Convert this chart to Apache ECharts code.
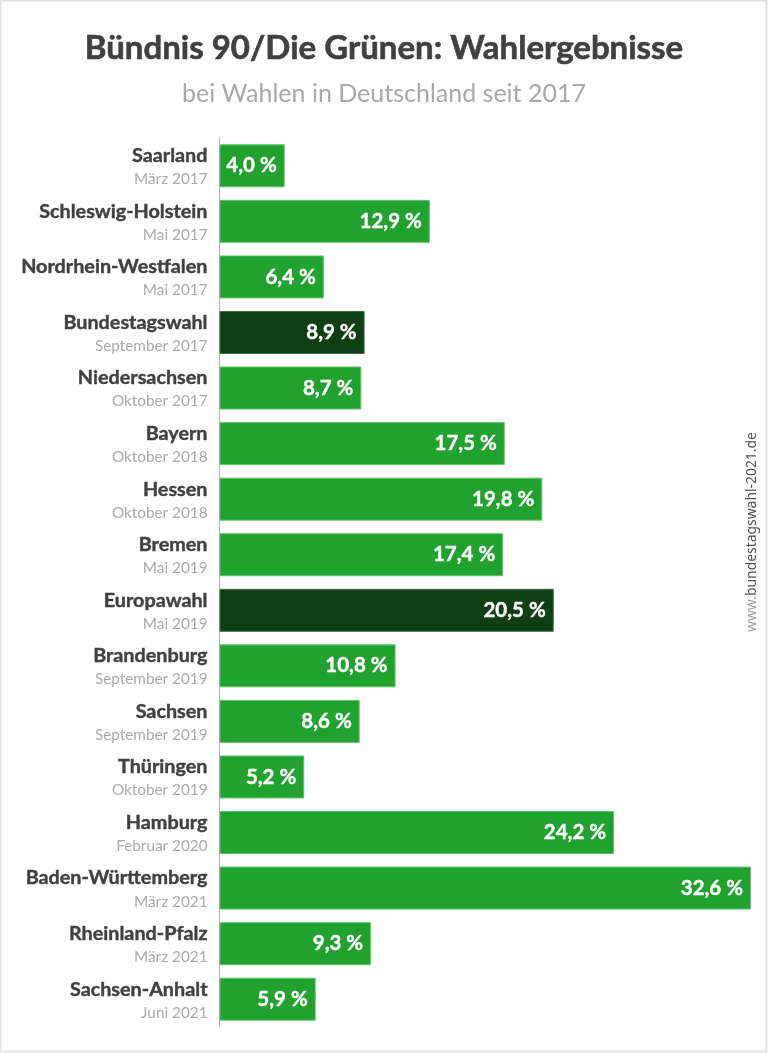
<!DOCTYPE html>
<html><head><meta charset="utf-8">
<style>html,body{margin:0;padding:0;background:#fff}#c{width:768px;height:1053px}</style>
<script src="https://cdn.jsdelivr.net/npm/echarts@6/dist/echarts.min.js"></script>
</head><body><div id="c"></div>
<script>
const regions=["Saarland","Schleswig-Holstein","Nordrhein-Westfalen","Bundestagswahl","Niedersachsen","Bayern","Hessen","Bremen","Europawahl","Brandenburg","Sachsen","Thüringen","Hamburg","Baden-Württemberg","Rheinland-Pfalz","Sachsen-Anhalt"];
const dates=["März 2017","Mai 2017","Mai 2017","September 2017","Oktober 2017","Oktober 2018","Oktober 2018","Mai 2019","Mai 2019","September 2019","September 2019","Oktober 2019","Februar 2020","März 2021","März 2021","Juni 2021"];
const values=[4.0,12.9,6.4,8.9,8.7,17.5,19.8,17.4,20.5,10.8,8.6,5.2,24.2,32.6,9.3,5.9];
const national=["Bundestagswahl","Europawahl"];
const titleText="Bündnis 90/Die Grünen: Wahlergebnisse";
const subtitleText="bei Wahlen in Deutschland seit 2017";
const chart=echarts.init(document.getElementById('c'),null,{renderer:'canvas'});
chart.setOption({
 animation:false,
 backgroundColor:'#fff',
 title:[
  {text:titleText,left:'center',top:27,textStyle:{fontFamily:'Lato',fontWeight:'bold',fontSize:33,color:'#404040',textBorderColor:'#404040',textBorderWidth:0.6}},
  {text:subtitleText,left:'center',top:76,textStyle:{fontFamily:'Lato',fontWeight:'normal',fontSize:25,color:'#a8a8a8'}}
 ],
 grid:{left:219.5,top:138,width:531.5,height:889,containLabel:false},
 xAxis:{type:'value',min:0,max:32.6,show:false},
 yAxis:{type:'category',inverse:true,data:regions,
  axisTick:{show:false},
  axisLine:{show:true,lineStyle:{color:'#b4b4b4',width:1}},
  axisLabel:{margin:12,align:'right',interval:0,lineHeight:23,padding:[2,0,0,0],
   formatter:(v,i)=>'{n|'+v+'}\n{d|'+dates[i]+'}',
   rich:{n:{fontFamily:'Lato',fontWeight:'bold',fontSize:19.8,color:'#404040',align:'right',lineHeight:25,textBorderColor:'#404040',textBorderWidth:0.4},
         d:{fontFamily:'Lato',fontSize:15.3,color:'#aaaaaa',align:'right',lineHeight:22}}}
 },
 series:[{type:'bar',barWidth:43,
  data:values.map((v,i)=>({value:v,itemStyle:{
    color:national.includes(regions[i])?'#0d3f13':'#21a22f',
    borderColor:national.includes(regions[i])?'#3c6a40':'#62c36c',borderWidth:1}})),
  label:{show:true,position:'insideRight',distance:8,
   formatter:p=>p.value.toFixed(1).replace('.',',')+' %',
   fontFamily:'Lato',fontWeight:'bold',fontSize:20.5,color:'#fff',textBorderColor:'#fff',textBorderWidth:0.4}}],
 graphic:[
  {type:'rect',z:100,shape:{x:0.5,y:0.5,width:766,height:1051},style:{fill:'none',stroke:'#e2e2e2',lineWidth:2}},
  {type:'text',z:100,x:752,y:632,rotation:Math.PI/2,
   style:{rich:{a:{fontFamily:'Noto Sans',fontSize:13.9,fill:'#a0a0a0'},b:{fontFamily:'Noto Sans',fontSize:13.9,fill:'#505050'}},
   text:'{a|www.}{b|bundestagswahl-2021.de}',verticalAlign:'middle',align:'left'}}
 ]
});
</script></body></html>
